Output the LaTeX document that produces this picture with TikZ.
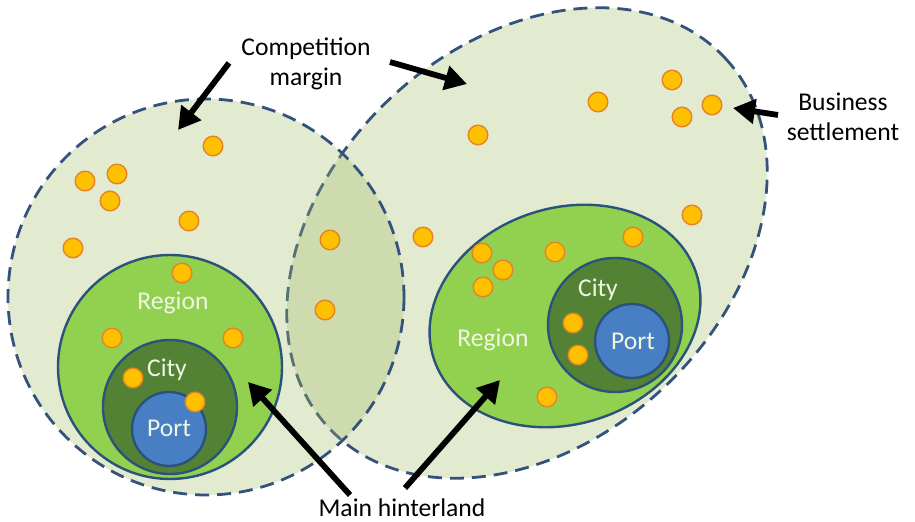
\documentclass[tikz,border=0pt]{standalone}
\usepackage{fontspec}
\setmainfont{Carlito}
\usetikzlibrary{arrows.meta}

\definecolor{zonegreen}{RGB}{160,185,100}
\definecolor{dashblue}{RGB}{52,82,124}
\definecolor{edgeblue}{RGB}{42,82,122}
\definecolor{regiongreen}{RGB}{146,208,80}
\definecolor{citygreen}{RGB}{84,130,53}
\definecolor{portblue}{RGB}{72,126,196}
\definecolor{dotyellow}{RGB}{255,192,0}
\definecolor{dotorange}{RGB}{228,132,36}
\definecolor{labelwhite}{RGB}{240,246,228}

\begin{document}
\begin{tikzpicture}[x=0.5pt, y=-0.5pt,
    zone/.style={fill=zonegreen, fill opacity=0.3, draw=dashblue, line width=1.4pt, dash pattern=on 7pt off 4pt},
    regionzone/.style={fill=regiongreen, draw=edgeblue, line width=1.2pt},
    cityzone/.style={fill=citygreen, draw=edgeblue, line width=1.2pt},
    portzone/.style={fill=portblue, draw=edgeblue, line width=1.2pt},
    settle/.style={circle, fill=dotyellow, draw=dotorange, line width=0.7pt, minimum size=9.8pt, inner sep=0pt},
    zonelabel/.style={text=labelwhite, font=\fontsize{12.8}{15}\selectfont, inner sep=0pt},
    note/.style={align=center, font=\fontsize{12.8}{15}\selectfont, inner sep=0pt},
    pointer/.style={line width=2.9pt, -{Triangle[length=11pt,width=12pt]}}]
    \useasboundingbox (0,0) rectangle (915,522);

    \draw[zone] (527,243) ellipse [x radius=271, y radius=199, rotate=43];
    \draw[zone] (206,297) circle [radius=198];

    \draw[regionzone] (170,367) circle [radius=112];
    \draw[cityzone] (170,407) circle [radius=67];
    \draw[portzone] (169,429) circle [radius=37];

    \draw[regionzone] (565,316) ellipse [x radius=138, y radius=108, rotate=18];
    \draw[cityzone] (615,325) circle [radius=67];
    \draw[portzone] (632,341) circle [radius=37];

    \foreach \px/\py [count=\i] in {213/146, 117/174, 85/181, 110/201, 189/221, 73/248,
        182/273, 112/338, 233/338, 133/378, 195/402, 330/240, 325/310,
        672/80, 598/102, 712/105, 682/117, 478/135, 692/215, 423/237,
        482/253, 555/252, 633/237, 503/270, 483/287, 573/323, 578/355, 547/397}
        \node[settle] (dot\i) at (\px,\py) {};

    \node(regionL)[zonelabel] at (173,303) {Region};
    \node(cityL)[zonelabel] at (167,370) {City};
    \node(portL)[zonelabel] at (169,428) {Port};
    \node(regionR)[zonelabel] at (493,340) {Region};
    \node(cityR)[zonelabel] at (598,290) {City};
    \node(portR)[zonelabel] at (633,341) {Port};

    \node(margin)[note] at (306,64) {Competition\\margin};
    \node(settlement)[note] at (843,117) {Business\\settlement};
    \node(hinterland)[note] at (402,508) {Main hinterland};

    \coordinate (marginA) at (229,63);
    \coordinate (marginAtip) at (178,130);
    \coordinate (marginB) at (390,62);
    \coordinate (marginBtip) at (467,84);
    \coordinate (settleA) at (778,115);
    \coordinate (settleAtip) at (733,108);
    \coordinate (hinterA) at (350,495);
    \coordinate (hinterAtip) at (248,382);
    \coordinate (hinterB) at (405,488);
    \coordinate (hinterBtip) at (500,380);

    \draw[pointer] (marginA) -- (marginAtip);
    \draw[pointer] (marginB) -- (marginBtip);
    \draw[pointer] (settleA) -- (settleAtip);
    \draw[pointer] (hinterA) -- (hinterAtip);
    \draw[pointer] (hinterB) -- (hinterBtip);
\end{tikzpicture}
\end{document}
